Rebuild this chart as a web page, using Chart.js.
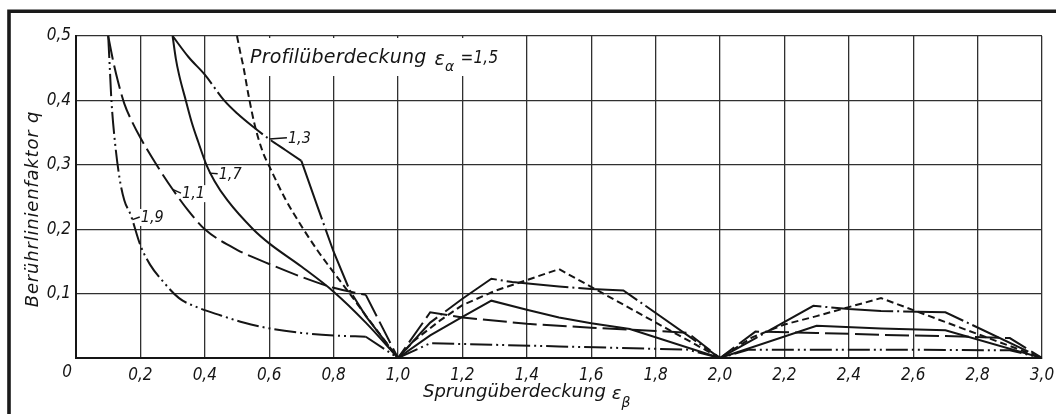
<!DOCTYPE html>
<html>
<head>
<meta charset="utf-8">
<script src="https://cdn.jsdelivr.net/npm/chart.js@4/dist/chart.umd.min.js"></script>
<style>
  html, body { margin: 0; padding: 0; background: #fff; }
  #wrap { width: 1056px; height: 414px; position: relative; }
</style>
</head>
<body>
<div id="wrap"><canvas id="c" width="1056" height="414"></canvas></div>
<script>
// Contact line factor q over overlap ratio εβ, one curve per transverse contact ratio εα.
const eb11 = [0.1, 0.115, 0.13, 0.15, 0.175, 0.2, 0.25, 0.3, 0.35, 0.4, 0.5, 0.6, 0.7, 0.8, 0.9, 1.0,
              1.1, 1.2, 1.4, 1.6, 1.8, 1.9, 2.0,
              2.11, 2.3, 2.5, 2.7, 2.9, 3.0];
const q11  = [0.5, 0.462, 0.43, 0.395, 0.366, 0.342, 0.3, 0.262, 0.228, 0.2, 0.168, 0.146, 0.126, 0.109, 0.098, 0,
              0.071, 0.063, 0.053, 0.047, 0.042, 0.039, 0,
              0.041, 0.039, 0.036, 0.034, 0.031, 0];

const eb13 = [0.3, 0.35, 0.4, 0.46, 0.5, 0.55, 0.6, 0.65, 0.7, 0.75, 0.8, 0.85, 0.9, 1.0,
              1.1, 1.2, 1.29, 1.355, 1.5, 1.6, 1.7, 2.0,
              2.29, 2.4, 2.5, 2.7, 3.0];
const q13  = [0.5, 0.467, 0.44, 0.4, 0.38, 0.359, 0.34, 0.323, 0.306, 0.235, 0.165, 0.105, 0.065, 0,
              0.055, 0.092, 0.123, 0.118, 0.111, 0.107, 0.105, 0,
              0.081, 0.076, 0.073, 0.071, 0];

const eb15 = [0.5, 0.51, 0.52, 0.535, 0.555, 0.58, 0.6, 0.65, 0.7, 0.75, 0.8, 0.85, 0.9, 1.0,
              1.05, 1.13, 1.2, 1.3, 1.4, 1.5, 2.0,
              2.1, 2.2, 2.3, 2.4, 2.5, 3.0];
const q15  = [0.5, 0.475, 0.452, 0.41, 0.362, 0.32, 0.298, 0.247, 0.205, 0.167, 0.133, 0.1, 0.066, 0,
              0.027, 0.058, 0.082, 0.104, 0.121, 0.138, 0,
              0.032, 0.052, 0.065, 0.079, 0.093, 0];

const eb17 = [0.3, 0.31, 0.32, 0.341, 0.36, 0.38, 0.405, 0.43, 0.47, 0.55, 0.6, 0.7, 0.8, 0.9, 1.0,
              1.1, 1.2, 1.29, 1.4, 1.5, 1.6, 1.72, 2.0,
              2.3, 2.5, 2.7, 3.0];
const q17  = [0.5, 0.465, 0.44, 0.4, 0.365, 0.335, 0.3, 0.275, 0.245, 0.2, 0.178, 0.142, 0.103, 0.055, 0,
              0.035, 0.064, 0.089, 0.075, 0.063, 0.054, 0.045, 0,
              0.05, 0.046, 0.043, 0];

const eb19 = [0.1, 0.105, 0.11, 0.12, 0.135, 0.15, 0.17, 0.2, 0.23, 0.27, 0.32, 0.38, 0.45, 0.52, 0.6, 0.7, 0.8, 0.9, 1.0,
              1.1, 1.5, 1.9, 2.0,
              2.09, 2.5, 2.9, 3.0];
const q19  = [0.5, 0.45, 0.4, 0.34, 0.28, 0.245, 0.222, 0.175, 0.145, 0.119, 0.093, 0.078, 0.066, 0.055, 0.046, 0.039, 0.035, 0.033, 0,
              0.023, 0.018, 0.013, 0,
              0.013, 0.013, 0.012, 0];

// εβ up to which each curve is drawn as a smooth spline; the rest is a polyline
const smoothEnd = { q11: 0.9, q13: 0.7, q15: 1.0, q17: 1.0, q19: 0.9 };

const xTickStep = 0.2;
const yTickStep = 0.1;

// Curve captions: leader from a point on the curve to the caption text.
const curveLabels = [
  { text: '1,3', from: [0.6, 0.34],    to: [0.655, 0.342] },
  { text: '1,7', from: [0.415, 0.287], to: [0.44, 0.286] },
  { text: '1,1', from: [0.3, 0.262],   to: [0.326, 0.256] },
  { text: '1,9', from: [0.175, 0.215], to: [0.198, 0.219] }
];

const TICK_FONT = "'Liberation Sans Narrow','DejaVu Sans Condensed','DejaVu Sans',sans-serif";
const TEXT_FONT = "'DejaVu Sans',sans-serif";
const INK = '#151515';

function fmt(v) { return v.toFixed(1).replace('.', ','); }

function lineSet(points, dash, smooth) {
  return {
    data: points,
    showLine: true,
    borderColor: INK,
    borderWidth: 2,
    borderDash: dash,
    pointRadius: 0,
    pointHoverRadius: 0,
    fill: false,
    tension: smooth ? 0.4 : 0,
    cubicInterpolationMode: smooth ? 'monotone' : 'default'
  };
}

// one curve = smooth part (start .. end) + straight-segment part (end .. 3.0)
function curve(xs, ys, end, dash) {
  const p = xs.map((x, i) => ({ x: x, y: ys[i] }));
  return [
    lineSet(p.filter(d => d.x <= end + 1e-9), dash, true),
    lineSet(p.filter(d => d.x >= end - 1e-9), dash, false)
  ];
}

const decor = {
  id: 'decor',
  beforeDraw(chart) {
    const ctx = chart.ctx;
    ctx.save();
    ctx.fillStyle = '#fff';
    ctx.fillRect(0, 0, chart.width, chart.height);
    // outer drawing frame (left and top edges)
    ctx.strokeStyle = '#1a1a1a';
    ctx.lineWidth = 3.6;
    ctx.beginPath();
    ctx.moveTo(9, chart.height);
    ctx.lineTo(9, 11.3);
    ctx.lineTo(chart.width, 11.3);
    ctx.stroke();
    ctx.restore();
  },
  beforeDatasetsDraw(chart) {
    const ctx = chart.ctx, xs = chart.scales.x, ys = chart.scales.y;
    ctx.save();
    ctx.fillStyle = '#fff';
    // clear grid behind the caption text
    ctx.fillRect(247, 38, 254, 38);
    ctx.font = 'italic 16px ' + TICK_FONT;
    curveLabels.forEach(l => {
      const tx = xs.getPixelForValue(l.to[0]) + 1;
      const ty = ys.getPixelForValue(l.to[1]);
      const w = ctx.measureText(l.text).width;
      ctx.fillRect(tx - 1, ty - 8, w + 3, 17);
    });
    ctx.restore();
  },
  afterDatasetsDraw(chart) {
    const ctx = chart.ctx, xs = chart.scales.x, ys = chart.scales.y;
    ctx.save();
    ctx.fillStyle = INK;
    ctx.strokeStyle = INK;
    ctx.lineWidth = 1.4;
    ctx.font = 'italic 16px ' + TICK_FONT;
    ctx.textBaseline = 'middle';
    ctx.textAlign = 'left';
    curveLabels.forEach(l => {
      const fx = xs.getPixelForValue(l.from[0]), fy = ys.getPixelForValue(l.from[1]);
      const tx = xs.getPixelForValue(l.to[0]), ty = ys.getPixelForValue(l.to[1]);
      ctx.beginPath();
      ctx.moveTo(fx, fy);
      ctx.lineTo(tx, ty);
      ctx.stroke();
      ctx.fillText(l.text, tx + 1, ty + 1);
    });

    // caption "Profilüberdeckung εα = 1,5"
    ctx.textBaseline = 'alphabetic';
    ctx.font = 'italic 19px ' + TEXT_FONT;
    if ('letterSpacing' in ctx) ctx.letterSpacing = '0.2px';
    let x = 250;
    ctx.fillText('Profilüberdeckung', x, 63);
    x += ctx.measureText('Profilüberdeckung').width + 8;
    ctx.fillText('ε', x, 65);
    x += ctx.measureText('ε').width;
    ctx.font = 'italic 14px ' + TEXT_FONT;
    ctx.fillText('α', x, 71);
    x += ctx.measureText('α').width + 6;
    ctx.font = 'italic 17px ' + TICK_FONT;
    ctx.fillText('=1,5', x, 63);

    // x-axis title "Sprungüberdeckung εβ"
    ctx.font = 'italic 18px ' + TEXT_FONT;
    if ('letterSpacing' in ctx) ctx.letterSpacing = '0px';
    x = 423;
    ctx.fillText('Sprungüberdeckung', x, 397);
    x += ctx.measureText('Sprungüberdeckung').width + 6;
    ctx.fillText('ε', x, 399);
    x += ctx.measureText('ε').width;
    ctx.font = 'italic 14px ' + TEXT_FONT;
    ctx.fillText('β', x, 407);

    // y-axis title
    ctx.font = 'italic 18px ' + TEXT_FONT;
    if ('letterSpacing' in ctx) ctx.letterSpacing = '0.8px';
    ctx.translate(33, 209);
    ctx.rotate(-Math.PI / 2);
    ctx.textAlign = 'center';
    ctx.textBaseline = 'middle';
    ctx.fillText('Berührlinienfaktor q', 0, 0);
    ctx.restore();

    // shared origin label
    ctx.save();
    ctx.fillStyle = INK;
    ctx.font = 'italic 17px ' + TICK_FONT;
    ctx.textAlign = 'center';
    ctx.textBaseline = 'middle';
    ctx.fillText('0', xs.getPixelForValue(0) - 9, ys.getPixelForValue(0) + 15);
    ctx.restore();
  }
};

new Chart(document.getElementById('c'), {
  type: 'scatter',
  data: {
    datasets: [
      ...curve(eb11, q11, smoothEnd.q11, [24, 6]),
      ...curve(eb13, q13, smoothEnd.q13, [62, 4, 2, 4]),
      ...curve(eb15, q15, smoothEnd.q15, [7, 4]),
      ...curve(eb17, q17, smoothEnd.q17, []),
      ...curve(eb19, q19, smoothEnd.q19, [22, 4, 2, 4, 2, 4])
    ]
  },
  options: {
    responsive: false,
    devicePixelRatio: 1,
    animation: false,
    events: [],
    layout: { padding: { left: 0, top: 36, right: 14, bottom: 0 } },
    plugins: { legend: { display: false }, tooltip: { enabled: false } },
    scales: {
      x: {
        type: 'linear',
        min: 0, max: 3,
        afterFit(scale) { scale.height = 56; scale.paddingRight = 0; scale.paddingLeft = 0; },
        grid: { color: '#303030', lineWidth: 1.3, drawTicks: false },
        border: { color: INK, width: 2 },
        ticks: {
          stepSize: xTickStep,
          autoSkip: false,
          maxRotation: 0,
          padding: 7,
          color: INK,
          font: { family: TICK_FONT, size: 17, style: 'italic' },
          callback: v => (Math.abs(v) < 1e-9 ? '' : fmt(v))
        }
      },
      y: {
        type: 'linear',
        min: 0, max: 0.5,
        afterFit(scale) { scale.width = 76; },
        grid: { color: '#303030', lineWidth: 1.3, drawTicks: false },
        border: { color: INK, width: 2 },
        ticks: {
          stepSize: yTickStep,
          padding: 5,
          color: INK,
          font: { family: TICK_FONT, size: 17, style: 'italic' },
          callback: v => (Math.abs(v) < 1e-9 ? '' : fmt(v))
        }
      }
    }
  },
  plugins: [decor]
});
</script>
</body>
</html>
